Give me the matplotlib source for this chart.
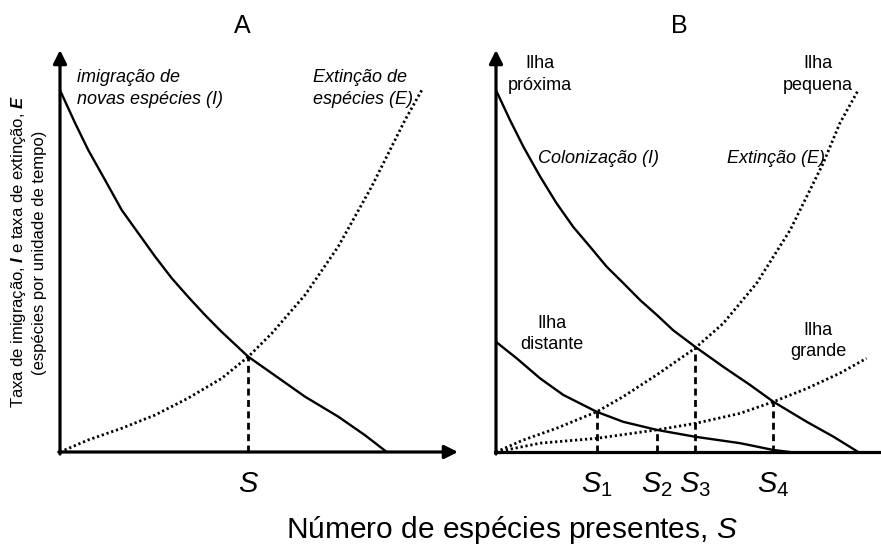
import matplotlib
matplotlib.use("Agg")
import matplotlib.pyplot as plt

plt.rcParams['font.family'] = ['Liberation Sans', 'DejaVu Sans']
plt.rcParams['mathtext.fontset'] = 'custom'
plt.rcParams['mathtext.rm'] = 'Liberation Sans'
plt.rcParams['mathtext.it'] = 'Liberation Sans:italic'
plt.rcParams['mathtext.bf'] = 'Liberation Sans:bold'
plt.rcParams['mathtext.bfit'] = 'Liberation Sans:italic:bold'

# --- panel A: one island ---
imig_x = [0, 3.8, 7.1, 11.3, 15.5, 19.7, 23.9, 28.1, 32.2, 36.4, 40.6, 47.3,
          53.2, 61.5, 69.9, 76.6, 82.1]
imig_y = [90.0, 81.8, 75.1, 67.7, 60.2, 54.4, 48.6, 43.2, 38.6, 34.1, 29.9, 23.7,
          19.6, 13.8, 8.8, 4.2, 0]
ext_x = [0, 7.1, 15.5, 23.9, 32.2, 40.6, 47.3, 53.2, 61.6, 69.9, 78.3, 82.5,
         86.7, 90.9]
ext_y = [0, 3.0, 5.9, 9.2, 13.4, 18.3, 23.7, 29.5, 39.1, 51.1, 66.0, 74.3,
         82.6, 90.0]
eqA_x = [47.3]
eqA_y = [23.7]
eqA_lab = [r'$S$']

# --- panel B: near/distant, small/large islands ---
near_x = [0, 3.5, 6.9, 11.1, 15.2, 19.4, 23.6, 27.8, 32.0, 36.2, 40.4, 44.5,
          50.0, 57.1, 63.8, 69.7, 78.1, 84.8, 91.0]
near_y = [90.0, 82.6, 75.9, 68.5, 61.9, 56.0, 51.1, 46.1, 42.0, 37.8, 34.1, 30.3,
          26.2, 21.2, 16.7, 12.5, 7.5, 3.8, 0]
dist_x = [0, 5.2, 11.1, 16.9, 25.3, 32.0, 40.4, 50.0, 61.3, 69.7, 73.9]
dist_y = [27.4, 23.3, 18.3, 14.2, 10.0, 7.5, 5.5, 3.8, 2.2, 0.5, 0]
small_x = [0, 6.9, 15.2, 25.3, 32.0, 40.4, 50.0, 57.1, 65.5, 73.9, 82.2, 86.4, 91.0]
small_y = [0, 3.0, 5.9, 10.0, 13.8, 19.2, 25.8, 32.0, 42.0, 55.2, 71.8, 81.8, 90.0]
large_x = [0, 11.1, 25.3, 40.4, 50.0, 61.3, 69.7, 78.1, 86.4, 93.1]
large_y = [0, 2.2, 3.4, 5.5, 7.1, 9.6, 12.5, 15.8, 19.6, 23.3]
eqB_x = [25.3, 40.4, 50.0, 69.7]
eqB_y = [10.0, 5.5, 26.0, 12.5]
eqB_lab = [r'$S_1$', r'$S_2$', r'$S_3$', r'$S_4$']

W, H = 881, 547
fig = plt.figure(figsize=(W / 100, H / 100), dpi=100)
axA = fig.add_axes([60 / W, 95 / H, 398 / W, 402 / H])
axB = fig.add_axes([496 / W, 95 / H, 385 / W, 402 / H])
axA.set_xlim(0, 100)
axB.set_xlim(0, 385 / 3.98)
for ax in (axA, axB):
    ax.set_ylim(0, 100)
    ax.axis('off')

solid = dict(color='black', lw=1.7, solid_capstyle='butt', solid_joinstyle='round')
dotted = dict(color='black', lw=2.0, ls=(0, (0.8, 1.0)))
dashed = dict(color='black', lw=2.0, ls=(0, (2.5, 1.6)))
arrow = dict(arrowstyle='-|>', color='black', lw=2.3, mutation_scale=20,
             shrinkA=0, shrinkB=0)

# axes with arrows
axA.annotate('', xy=(0, 100), xytext=(0, -0.5), arrowprops=arrow)
axA.annotate('', xy=(100, 0), xytext=(-0.3, 0), arrowprops=arrow)
axB.annotate('', xy=(0, 100), xytext=(0, -0.5), arrowprops=arrow)
axB.plot([-0.3, 100], [0, 0], color='black', lw=2.3, clip_on=False)

# panel A
axA.plot(imig_x, imig_y, **solid)
axA.plot(ext_x, ext_y, **dotted)
for x, y, lab in zip(eqA_x, eqA_y, eqA_lab):
    axA.plot([x, x], [0, y], **dashed)
    axA.annotate(lab, xy=(x, 0), xytext=(0, -28.8), textcoords='offset points',
                 ha='center', va='baseline', fontsize=21)

it = dict(fontsize=13, style='italic', va='baseline')
axA.text(4.3, 92.0, 'imigração de', **it)
axA.text(4.3, 86.6, 'novas espécies (I)', **it)
axA.text(63.6, 92.0, 'Extinção de', **it)
axA.text(63.6, 86.6, 'espécies (E)', **it)

# panel B
axB.plot(near_x, near_y, **solid)
axB.plot(dist_x, dist_y, **solid)
axB.plot(small_x, small_y, **dotted)
axB.plot(large_x, large_y, **dotted)
for x, y, lab in zip(eqB_x, eqB_y, eqB_lab):
    axB.plot([x, x], [0, y], **dashed)
    axB.annotate(lab, xy=(x, 0), xytext=(0, -28.8), textcoords='offset points',
                 ha='center', va='baseline', fontsize=21)

up = dict(fontsize=13, ha='center', va='baseline')
axB.text(11.1, 95.5, 'Ilha', **up)
axB.text(11.1, 90.0, 'próxima', **up)
axB.text(80.9, 95.5, 'Ilha', **up)
axB.text(80.9, 90.0, 'pequena', **up)
axB.text(14.1, 30.8, 'Ilha', **up)
axB.text(14.1, 25.6, 'distante', **up)
axB.text(80.9, 29.1, 'Ilha', **up)
axB.text(80.9, 23.9, 'grande', **up)
axB.text(10.6, 71.9, 'Colonização (I)', **it)
axB.text(58.0, 71.9, 'Extinção (E)', **it)

# titles and axis labels
fig.text(242 / W, 1 - 33 / H, 'A', ha='center', va='baseline', fontsize=18)
fig.text(679 / W, 1 - 33 / H, 'B', ha='center', va='baseline', fontsize=18)
fig.text(18.5 / W, 1 - 252 / H,
         r'Taxa de imigração, $\mathbfit{I}$ e taxa de extinção, $\mathbfit{E}$',
         rotation=90, ha='center', va='center', fontsize=12)
fig.text(39.5 / W, 1 - 253 / H, '(espécies por unidade de tempo)',
         rotation=90, ha='center', va='center', fontsize=12)
fig.text(512 / W, 1 - 538 / H, r'Número de espécies presentes, $S$',
         ha='center', va='baseline', fontsize=21.5)

fig.savefig('out.png', dpi=100)
